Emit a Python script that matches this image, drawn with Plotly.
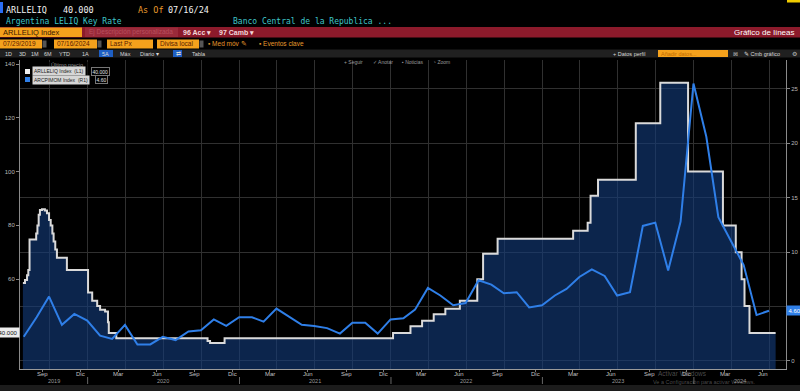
import calendar
import plotly.graph_objects as go

# ---------------- data ----------------
leliq_dates = [
    "2019-07-29", "2019-08-03", "2019-08-08", "2019-08-11", "2019-08-14", "2019-08-27",
    "2019-08-30", "2019-09-02", "2019-09-05", "2019-09-08", "2019-09-13", "2019-09-20",
    "2019-09-25", "2019-09-30", "2019-10-04", "2019-10-08", "2019-10-11", "2019-10-15",
    "2019-10-19", "2019-11-12", "2020-01-02", "2020-01-12", "2020-01-24", "2020-01-31",
    "2020-02-12", "2020-02-19", "2020-02-21", "2020-03-10", "2020-10-16", "2020-10-22",
    "2020-11-26", "2022-01-06", "2022-02-17", "2022-03-17", "2022-04-14", "2022-05-12",
    "2022-06-16", "2022-07-28", "2022-08-11", "2022-09-15", "2023-03-16", "2023-04-20",
    "2023-04-27", "2023-05-15", "2023-08-14", "2023-10-12", "2023-12-18", "2024-03-11",
    "2024-04-11", "2024-04-25", "2024-05-02", "2024-05-14", "2024-07-16",
]
leliq_values = [
    58.6, 59.7, 61.5, 63.4, 74.8, 74.8,
    77, 80, 84, 85.7, 86, 85.5,
    84.5, 82, 80, 77, 74, 71,
    68, 63.4, 55, 52, 50, 48.6,
    48, 44, 40, 38, 37, 36.3,
    38, 40, 42.5, 44.5, 47, 49,
    52, 60, 69.5, 75, 78, 81,
    91, 97, 118, 133, 100, 80,
    70, 60, 50, 40, 40,
]

cpi_months = [(y, m) for y in range(2019, 2025) for m in range(1, 13)
              if (2019, 7) <= (y, m) <= (2024, 6)]
cpi_dates = [f"{y}-{m:02d}-{calendar.monthrange(y, m)[1]:02d}" for y, m in cpi_months]
cpi_values = [
    2.2, 4.0, 5.9, 3.3, 4.3, 3.7,
    2.3, 2.0, 3.3, 1.5, 1.5, 2.2, 1.9, 2.7, 2.8, 3.8, 3.2, 4.0,
    4.0, 3.6, 4.8, 4.1, 3.3, 3.2, 3.0, 2.5, 3.5, 3.5, 2.5, 3.8,
    3.9, 4.7, 6.7, 6.0, 5.1, 5.3, 7.4, 7.0, 6.2, 6.3, 4.9, 5.1,
    6.0, 6.6, 7.7, 8.4, 7.8, 6.0, 6.3, 12.4, 12.7, 8.3, 12.8, 25.5,
    20.6, 13.2, 11.0, 8.8, 4.2, 4.6,
]

month_tick_dates = [
    "2019-09-15", "2019-12-15", "2020-03-15", "2020-06-15", "2020-09-15", "2020-12-15",
    "2021-03-15", "2021-06-15", "2021-09-15", "2021-12-15", "2022-03-15", "2022-06-15",
    "2022-09-15", "2022-12-15", "2023-03-15", "2023-06-15", "2023-09-15", "2023-12-15",
    "2024-03-15", "2024-06-15",
]
month_tick_labels = ["Sep", "Dic", "Mar", "Jun"] * 5
quarter_grid_dates = [
    "2019-10-01", "2020-01-01", "2020-04-01", "2020-07-01", "2020-10-01", "2021-01-01",
    "2021-04-01", "2021-07-01", "2021-10-01", "2022-01-01", "2022-04-01", "2022-07-01",
    "2022-10-01", "2023-01-01", "2023-04-01", "2023-07-01", "2023-10-01", "2024-01-01",
    "2024-04-01", "2024-07-01",
]
year_labels = ["2019", "2020", "2021", "2022", "2023", "2024"]
year_label_dates = ["2019-10-11", "2020-07-01", "2021-07-01", "2022-07-01", "2023-07-01", "2024-04-21"]
year_sep_dates = ["2020-01-01", "2021-01-01", "2022-01-01", "2023-01-01", "2024-01-01"]

left_ticks = [60, 80, 100, 120, 140]
right_ticks = [0, 5, 10, 15, 20, 25]
right_tick_text = ["0", "", "10", "15", "20", "25"]

last_left = "40.000"
last_right = "4.60"

# ---------------- geometry helpers ----------------
W, H = 800, 391
L, R, T, B = 20, 786, 60, 369


def PX(x):
    return (x - L) / (R - L)


def PY(y):
    return (B - y) / (B - T)


shapes = []
annotations = []


def rect(x0, y0, x1, y1, color, line=None):
    shapes.append(dict(type="rect", xref="paper", yref="paper",
                       x0=PX(x0), x1=PX(x1), y0=PY(y1), y1=PY(y0),
                       fillcolor=color, line=dict(width=0 if line is None else 1,
                                                  color=line or color),
                       layer="above"))


def text(x, y, s, color="#ffffff", size=7, family="Liberation Sans", anchor="left",
         bg=None, border=None, pad=0):
    a = dict(x=PX(x), y=PY(y), xref="paper", yref="paper", text=s, showarrow=False,
             xanchor=anchor, yanchor="middle",
             font=dict(color=color, size=size, family=family), borderpad=pad)
    if bg:
        a["bgcolor"] = bg
    if border:
        a["bordercolor"] = border
        a["borderwidth"] = 1
    annotations.append(a)


MONO = "DejaVu Sans Mono"

# Row 1
rect(0, 2, 3, 13, "#2a6df4")
rect(787, 0, 800, 2.5, "#f0cc00")
text(5, 9.5, "ARLLELIQ", "#f2f2f2", 8.5, MONO)
text(62, 9.5, "40.000", "#f2f2f2", 8.5, MONO)
text(137, 9.5, "As Of", "#e89a2c", 8.5, MONO)
text(167, 9.5, "07/16/24", "#f2f2f2", 8.5, MONO)
# Row 2
text(5, 21, "Argentina LELIQ Key Rate", "#3fc5c8", 8, MONO)
text(232, 21, "Banco Central de la Republica ...", "#3fc5c8", 8, MONO)
# Row 3 red bar
rect(0, 27, 800, 37.5, "#8c1a2b")
rect(0, 27.5, 82, 37, "#f4a11c")
text(2, 32.3, "ARLLELIQ Index", "#3a1800", 7.5)
rect(85, 27.5, 178, 37, "#9a2a3a")
text(88, 32.3, "Ej Descripción personalizada", "#b8505e", 6.5)
text(182, 32.3, "<b>96 Acc ▾</b>", "#f3d7da", 7)
text(218, 32.3, "<b>97 Camb ▾</b>", "#f3d7da", 7)
text(795, 32.3, "Gráfico de líneas", "#ffffff", 8, anchor="right")
# Row 4 fields
for x0, x1, s in [(0, 42, "07/29/2019"), (54, 97, "07/16/2024"),
                  (107, 153, "Last Px"), (157, 199, "Divisa local")]:
    rect(x0, 39.5, x1, 48.5, "#f4a11c")
    text(x0 + 2, 44, s, "#5a2000", 6.5)
for x0 in (42, 97, 199):
    rect(x0 + 0.5, 40.5, x0 + 4.5, 47.5, "#555555")
text(207, 44, "▪ Med móv ✎", "#e89a2c", 6.5)
text(258, 44, "▪ Eventos clave", "#e89a2c", 6.5)
# Row 5 gray toolbar
rect(0, 49.5, 800, 57.5, "#202020")
rect(99, 50, 113, 57, "#1e5fc4")
rect(173, 50, 182, 57, "#1e5fc4")
for x, s in [(4, "1D"), (18, "3D"), (30, "1M"), (43, "6M"), (58, "YTD"), (81, "1A"),
             (101, "5A"), (119, "Máx"), (139, "Diario ▾"), (175, "⇄"), (191, "Tabla")]:
    text(x, 53.6, s, "#d8d8d8", 5.5)
text(612, 53.6, "+ Datos perfil", "#d8d8d8", 5.5)
rect(658, 50, 728, 57, "#f4a11c")
text(660, 53.6, "Añadir datos...", "#c06a00", 5.5)
text(732, 53.6, "⊠", "#bbbbbb", 6)
text(743, 53.6, "✎ Cmb gráfico", "#d8d8d8", 5.5)
text(791, 53.6, "⚙", "#bbbbbb", 6)
# chart toolbar
for x, s in [(343, "+ Seguir"), (372, "✓ Anotar"), (401, "▪ Noticias"), (432, "◔ Zoom")]:
    text(x, 62, s, "#9a9a9a", 5)
# legend box
rect(22, 62, 108, 85, "rgba(0,0,0,0.6)")
text(50, 65.5, "Último precio", "#8c8c8c", 5.5)
rect(25, 69, 30, 74, "#eeeeee")
rect(25, 77, 30, 82, "#2f7fe8")
text(32, 71.5, "ARLLELIQ Index  (L1)", "#222222", 5, bg="#d6d6d6", pad=1)
text(91, 71.5, "40.000", "#e0e0e0", 5, border="#777777", pad=0.5)
text(32, 79.5, "ARCPIMOM Index  (R1)", "#222222", 5, bg="#d6d6d6", pad=1)
text(95, 79.5, "4.60", "#e0e0e0", 5, border="#777777", pad=0.5)
# bottom band and watermark
rect(0, 385, 800, 391, "#1c1c1c")
text(657, 373, "Activar Windows", "rgba(190,190,190,0.40)", 6.5)
text(652, 381.5, "Ve a Configuración para activar Windows.", "rgba(190,190,190,0.40)", 5.5)

# month and year labels (x in data coordinates)
for d, s in zip(month_tick_dates, month_tick_labels):
    annotations.append(dict(x=d, xref="x", y=PY(373.5), yref="paper", text=s, showarrow=False,
                            xanchor="center", yanchor="middle",
                            font=dict(color="#c0c0c0", size=6, family="Liberation Sans")))
for d, s in zip(year_label_dates, year_labels):
    annotations.append(dict(x=d, xref="x", y=PY(380.5), yref="paper", text=s, showarrow=False,
                            xanchor="center", yanchor="middle",
                            font=dict(color="#9a9a9a", size=5.5, family="Liberation Sans")))
for d in year_sep_dates:
    shapes.append(dict(type="line", xref="x", yref="paper", x0=d, x1=d,
                       y0=PY(384), y1=PY(377), line=dict(color="#666666", width=1)))

# last value tags
annotations.append(dict(x=0, xref="paper", y=40, yref="y", text=last_left, showarrow=False,
                        xanchor="right", yanchor="middle", bgcolor="#ececec",
                        font=dict(color="#111111", size=6, family="Liberation Sans"),
                        borderpad=1.5))
annotations.append(dict(x=1, xref="paper", y=4.6, yref="y2", text=last_right, showarrow=False,
                        xanchor="left", yanchor="middle", bgcolor="#2f7fe8",
                        font=dict(color="#ffffff", size=6, family="Liberation Sans"),
                        borderpad=1.5))

# ---------------- traces ----------------
fig = go.Figure()
fig.add_trace(go.Scatter(
    x=leliq_dates, y=leliq_values, mode="lines", name="ARLLELIQ Index (L1)",
    line=dict(color="#dadada", width=2, shape="hv"),
    fill="tozeroy", fillcolor="rgba(20,60,122,0.62)", hoverinfo="skip"))
fig.add_trace(go.Scatter(
    x=cpi_dates, y=cpi_values, mode="lines", name="ARCPIMOM Index (R1)",
    yaxis="y2", line=dict(color="#2f7fe8", width=2), hoverinfo="skip"))

fig.update_layout(
    width=W, height=H, autosize=False,
    margin=dict(l=L, r=W - R, t=T, b=H - B, pad=0, autoexpand=False),
    paper_bgcolor="#000000", plot_bgcolor="#000000",
    showlegend=False,
    xaxis=dict(
        type="date", range=["2019-07-22", "2024-08-10"], automargin=False,
        tickmode="array", tickvals=month_tick_dates, showticklabels=False,
        ticks="outside", ticklen=2, tickcolor="#777777",
        showgrid=False, zeroline=False,
        showline=True, linecolor="#9a9a9a", linewidth=1,
        minor=dict(tickmode="array", tickvals=quarter_grid_dates, showgrid=True,
                   gridcolor="#303030", gridwidth=1, ticks=""),
    ),
    yaxis=dict(
        range=[26.6, 141.5], tickmode="array", tickvals=left_ticks, automargin=False,
        tickfont=dict(color="#b8b8b8", size=6, family="Liberation Sans"),
        ticks="outside", ticklen=3, tickcolor="#888888",
        showgrid=False, zeroline=False,
        showline=True, linecolor="#8a8a8a", linewidth=1,
    ),
    yaxis2=dict(
        overlaying="y", side="right", range=[-0.76, 27.66], automargin=False,
        tickmode="array", tickvals=right_ticks, ticktext=right_tick_text,
        tickfont=dict(color="#b8b8b8", size=6, family="Liberation Sans"),
        ticks="outside", ticklen=3, tickcolor="#888888",
        showgrid=True, gridcolor="#303030", gridwidth=1, zeroline=False,
        showline=True, linecolor="#8a8a8a", linewidth=1,
    ),
    shapes=shapes,
    annotations=annotations,
)

fig.write_html("out.html", config={"displayModeBar": False},
               post_script="document.body.style.margin='0px';document.body.style.overflow='hidden';")
